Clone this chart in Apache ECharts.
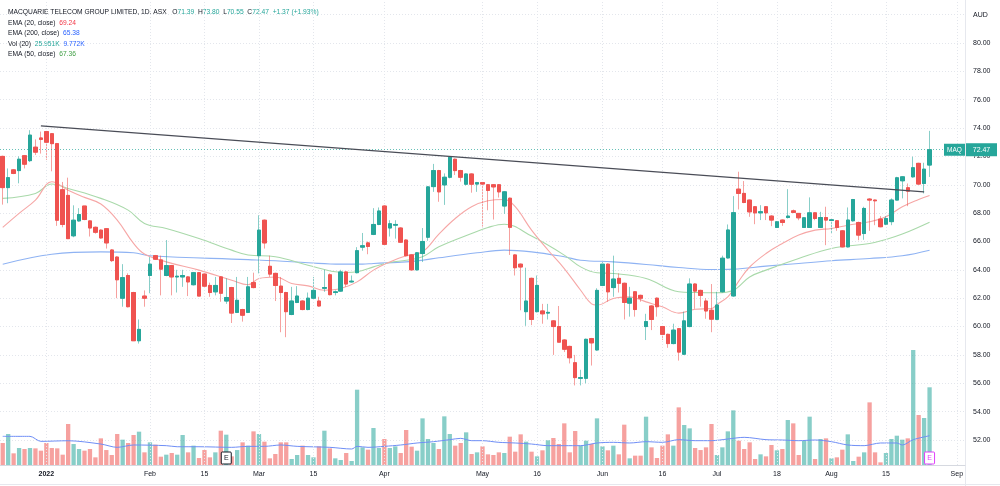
<!DOCTYPE html>
<html><head><meta charset="utf-8">
<script src="https://cdn.jsdelivr.net/npm/echarts@6/dist/echarts.min.js"></script>
<style>html,body{margin:0;padding:0;background:#fff}#c{width:1000px;height:486px}</style>
</head><body><div id="c"></div>
<script>
// ---- DATA ----
const opens = [72.00,69.80,71.05,71.00,72.05,71.70,72.65,73.30,73.75,73.60,72.90,69.65,69.25,66.40,67.45,68.50,67.45,67.00,66.80,66.90,65.40,64.90,62.00,63.60,62.40,59.00,62.15,63.60,65.00,64.70,63.60,64.30,63.50,63.50,63.50,62.95,63.80,63.70,62.90,62.45,63.50,61.80,62.75,61.00,61.20,61.00,63.10,65.00,67.50,64.25,63.75,62.85,62.40,60.85,61.70,61.80,61.20,62.00,61.80,62.70,63.65,62.40,62.50,63.85,63.15,63.80,65.60,65.90,66.50,67.20,68.50,66.95,67.15,66.95,66.10,65.05,64.00,65.15,66.30,69.87,71.00,69.99,70.53,71.80,71.00,70.04,70.76,70.05,70.15,70.00,70.00,70.00,68.50,69.05,65.05,64.40,61.05,63.40,61.05,61.10,60.95,60.40,60.00,59.05,58.60,57.45,56.35,56.35,59.15,58.35,62.90,64.40,62.75,63.40,63.05,61.65,62.45,62.20,60.00,61.45,62.00,60.00,59.45,58.80,59.85,58.05,60.00,63.00,62.55,61.80,61.15,60.51,62.46,64.84,62.16,69.69,69.39,68.92,68.45,68.02,68.45,67.79,66.99,67.51,67.69,68.16,67.98,66.99,66.99,68.02,66.99,67.69,67.48,67.46,66.75,65.62,67.46,67.34,66.56,68.99,68.92,67.58,67.22,67.40,68.92,70.28,69.79,70.56,71.51,70.09,71.39];
const highs = [72.05,71.15,71.10,72.00,72.10,73.85,73.20,73.75,73.80,73.65,72.95,70.20,70.50,68.55,68.35,68.50,67.50,67.05,66.85,66.95,65.45,64.95,64.40,63.75,62.45,60.50,62.55,64.90,65.05,65.00,66.10,64.35,64.00,64.00,63.55,63.85,63.85,63.75,63.10,63.50,63.55,63.40,62.80,63.50,61.25,63.50,63.80,67.85,67.55,65.00,63.80,63.50,62.45,62.80,62.85,61.85,62.40,63.50,62.10,64.00,63.75,62.55,64.00,63.90,63.60,65.60,66.60,66.00,68.35,68.40,68.55,67.50,67.50,67.00,66.15,65.10,65.25,66.95,69.90,71.47,71.05,70.80,72.00,71.85,71.05,70.80,70.80,70.20,70.20,70.05,70.05,70.05,69.55,69.10,65.10,64.45,64.15,63.45,63.60,61.60,61.60,60.45,61.45,59.10,58.65,58.00,56.95,59.15,59.20,62.70,64.55,64.45,65.00,63.75,63.10,62.80,62.50,62.25,60.90,61.50,62.05,60.05,59.50,60.20,59.90,61.05,63.40,63.05,62.60,62.00,63.00,62.45,65.00,67.20,69.20,70.92,70.26,68.95,68.50,68.56,68.50,67.85,67.40,67.55,69.69,68.25,68.00,67.70,69.11,68.05,68.09,68.45,67.60,67.50,66.80,68.40,69.00,67.40,68.45,69.05,68.95,67.79,67.79,69.04,70.56,70.60,70.09,71.98,71.55,71.55,73.80];
const lows = [68.60,68.70,70.75,70.10,71.15,71.60,72.10,72.20,71.75,70.95,67.10,67.00,66.20,66.30,67.40,67.50,66.35,66.55,66.20,65.50,64.55,62.00,61.40,61.35,59.00,58.80,61.40,62.35,64.70,62.20,63.55,62.20,62.40,62.80,62.15,62.90,62.15,62.80,62.10,62.20,61.75,61.60,60.25,60.95,60.35,60.95,62.70,63.75,65.50,63.50,61.80,59.60,59.25,60.80,61.65,61.15,61.15,61.95,61.40,62.45,62.20,62.20,62.45,62.80,63.10,63.75,65.35,65.10,66.45,67.15,65.75,66.35,66.20,65.90,64.95,63.95,63.95,64.55,66.05,69.50,68.80,68.58,70.45,70.69,70.22,69.95,69.44,69.50,67.05,68.20,67.55,69.10,67.95,65.05,63.60,61.15,60.05,60.10,61.00,60.20,60.50,58.00,58.90,58.20,57.40,55.85,55.85,56.00,57.25,58.30,62.85,61.75,62.10,62.40,60.50,60.70,60.70,61.75,59.05,59.75,60.70,59.05,58.50,58.75,57.60,58.00,59.95,61.25,61.40,60.55,59.60,60.45,62.40,64.80,62.10,68.26,68.70,67.74,67.22,67.51,67.51,67.08,66.95,67.10,67.62,68.00,67.50,66.95,66.95,67.50,66.95,65.74,66.56,66.75,65.58,65.58,67.40,66.09,66.12,66.75,67.15,67.00,67.15,67.15,68.90,69.04,68.49,70.50,70.00,69.39,70.55];
const closes = [69.80,70.50,70.80,71.80,71.45,73.50,72.30,73.20,73.00,72.90,67.50,67.20,66.20,67.50,67.90,67.55,66.95,66.65,66.25,65.90,64.65,63.30,63.45,61.40,59.00,59.80,62.00,64.40,64.75,64.05,64.30,63.50,63.55,63.60,63.15,63.80,62.15,62.85,62.40,62.90,62.35,62.05,60.95,61.85,60.80,62.80,62.75,66.80,65.90,63.70,62.90,62.40,61.05,61.80,62.15,61.20,62.00,62.55,61.45,62.75,62.25,62.45,63.85,63.00,63.20,65.35,65.70,65.65,67.20,68.15,65.80,67.25,67.20,65.95,65.00,64.00,65.20,66.00,69.85,71.00,69.50,70.53,71.94,71.00,70.53,70.76,70.04,70.15,70.05,69.60,69.85,69.50,69.50,67.00,64.15,64.20,61.80,60.50,62.90,60.90,61.00,60.00,58.90,58.40,57.80,56.40,56.40,59.10,58.85,62.55,64.40,62.45,63.35,63.05,61.70,62.00,61.20,62.00,60.35,60.50,61.40,59.45,58.80,59.75,58.20,60.40,63.00,62.50,62.20,61.10,60.52,61.52,64.82,66.81,68.03,69.39,68.75,68.09,68.02,68.10,68.02,67.51,67.39,67.34,67.79,68.05,67.67,67.67,68.02,67.62,67.69,67.51,67.53,66.99,65.62,67.51,68.96,66.45,68.33,68.92,68.87,67.04,67.62,68.92,70.49,70.56,69.55,71.20,70.05,71.10,72.47];
// volume in thousands
const volumes = [7.35,10.35,3.9,5.68,5.34,5.68,5.56,4.79,7.35,5.68,5.56,3.45,13.69,7.01,5.34,4.79,5.34,2.56,8.9,5.0,3.34,10.35,8.46,7.35,10.02,11.13,4.23,7.57,6.79,2.78,3.45,4.0,3.45,10.02,4.23,6.46,2.34,5.0,2.56,4.23,11.46,10.13,2.89,5.0,7.57,6.46,11.24,10.35,7.79,2.23,3.67,7.57,7.57,2.0,3.34,6.46,3.34,2.56,6.23,11.46,5.56,2.23,1.67,4.0,1.34,25.15,5.9,5.12,12.35,5.68,8.68,5.68,6.23,4.0,11.69,6.12,4.79,15.58,8.68,7.35,5.34,16.25,10.35,6.46,7.35,10.91,3.67,4.23,6.23,3.56,3.34,4.23,4.0,9.46,4.45,10.24,7.79,4.45,2.89,4.9,8.24,9.02,7.01,13.91,4.23,11.35,6.46,8.12,7.01,15.58,6.23,4.9,6.46,3.56,13.47,2.23,3.12,3.12,16.14,5.9,2.34,6.46,10.24,6.46,19.25,13.36,12.24,5.68,5.0,5.9,13.69,3.34,5.9,11.24,18.25,8.12,5.34,7.57,2.0,3.56,2.89,6.68,4.9,5.34,15.02,13.91,3.34,8.12,16.14,2.0,8.68,8.9,2.23,2.56,5.12,10.24,1.34,2.78,4.23,20.92,4.23,0.89,4.0,8.68,9.79,8.46,8.9,38.4,16.69,15.69,25.95];
// indicator lines: [bar index, value]
const ema20 = [[0,66.99],[3,67.98],[6,68.92],[9,70.21],[12,69.62],[15,69.11],[18,68.64],[21,67.51],[24,65.86],[26,65.11],[30,64.56],[36,63.98],[42,63.27],[45,62.95],[47,63.39],[50,63.5],[53,63.04],[56,62.87],[59,62.56],[62,62.68],[65,63.15],[68,63.98],[71,64.56],[74,64.99],[77,65.27],[80,66.52],[83,67.62],[86,68.45],[89,68.87],[92,68.96],[94,68.45],[97,66.8],[100,65.4],[103,64.09],[106,62.56],[108,61.6],[109,61.51],[112,61.98],[115,62.09],[118,61.74],[121,61.39],[124,60.95],[127,61.22],[130,61.27],[131,61.55],[133,62.1],[134,62.6],[135,63.2],[137,64.2],[140,65.15],[143,65.86],[146,66.45],[149,66.8],[152,66.92],[155,67.15],[159,67.39],[162,67.74],[165,68.45],[168,68.96],[170,69.24]];
const ema50 = [[0,69.04],[6,69.39],[9,70.05],[12,69.74],[18,69.04],[23,68.21],[26,67.27],[30,66.92],[36,66.21],[42,65.39],[45,65.05],[50,64.92],[56,64.33],[61,63.86],[63,63.81],[65,63.86],[68,64.21],[71,64.52],[74,64.68],[77,64.92],[80,65.62],[86,66.56],[89,66.99],[92,67.22],[97,66.38],[103,65.04],[106,64.21],[109,63.79],[112,63.74],[118,63.39],[124,62.45],[127,62.4],[131,62.38],[134,62.56],[137,63.5],[140,63.98],[146,64.8],[152,65.51],[159,65.86],[162,66.14],[165,66.52],[170,67.36]];
const ema200 = [[0,64.4],[9,65.1],[18,65.27],[24,65.2],[27,64.99],[45,64.72],[50,64.64],[56,64.5],[62,64.4],[66,64.4],[68,64.45],[74,64.56],[77,64.68],[80,64.85],[87,65.2],[92,65.39],[97,65.27],[103,64.92],[106,64.68],[112,64.56],[118,64.38],[124,64.16],[130,64.02],[134,64.05],[140,64.26],[146,64.45],[152,64.64],[159,64.8],[165,64.99],[170,65.38]];
const volMa = [[0,9.57],[5,9.57],[7,7.9],[12,8.1],[18,7.0],[21,5.9],[24,6.68],[30,6.46],[32,6.1],[36,6.1],[42,5.9],[45,6.23],[48,6.23],[51,6.68],[54,6.23],[60,5.9],[64,5.34],[65,6.23],[67,5.9],[70,6.23],[73,6.68],[76,7.35],[79,7.79],[82,8.46],[84,8.9],[86,8.12],[88,8.12],[91,7.57],[94,7.35],[97,7.0],[100,6.46],[103,6.46],[106,6.46],[109,7.35],[112,7.57],[115,7.35],[118,7.79],[121,7.57],[124,8.46],[127,8.12],[130,8.12],[133,8.68],[136,9.24],[140,8.46],[143,8.35],[146,8.12],[149,8.35],[152,7.79],[155,6.68],[158,6.46],[161,7.35],[164,7.35],[165,6.68],[167,8.46],[170,9.77]];
const trendLine = [[7,74.15],[169,69.5]];
const tickIdx  = [8,27,37,47,57,70,88,98,110,121,131,142,152,162,175];
const tickText = ['2022','Feb','15','Mar','15','Apr','May','16','Jun','16','Jul','18','Aug','15','Sep'];
const earningsIdx = [41,170];
const totalSlots = 177;
const lastClose = 72.47;

// ---- build ----
const UP='#26a69a', DN='#ef5350';
const cats = Array.from({length: totalSlots}, (_, i) => String(i));
const full = opens.map((o,i)=>[o, closes[i], lows[i], highs[i]]);
const bodies = opens.map((o,i)=>[o, closes[i], Math.min(o,closes[i]), Math.max(o,closes[i])]);
const volData = volumes.map((v,i)=>({value:v, itemStyle:{color: closes[i]>=opens[i]?'rgba(38,166,154,0.55)':'rgba(239,83,80,0.55)'}}));
const FONT = 'Liberation Sans, Arial, sans-serif';
const GRID = '#e3e6ec';

const chart = echarts.init(document.getElementById('c'), null, {renderer:'canvas'});
const option = {
  animation:false,
  backgroundColor:'#ffffff',
  grid:[
    {left:0, right:35, top:14.6, bottom:46},
    {left:0, right:35, top:0, bottom:21}
  ],
  xAxis:[
    {type:'category', gridIndex:0, data:cats, boundaryGap:true, show:false},
    {type:'category', gridIndex:1, data:cats, boundaryGap:true,
     axisLine:{show:true, lineStyle:{color:'#d6d9e0'}}, axisTick:{show:false},
     splitLine:{show:false},
     axisLabel:{show:true, margin:6, fontSize:7, fontFamily:FONT, color:'#131722',
       interval:(idx)=>tickIdx.indexOf(idx)>=0,
       formatter:(v,idx)=>{const k=tickIdx.indexOf(idx); if(k<0) return ''; return k===0?'{b|'+tickText[k]+'}':tickText[k];},
       rich:{b:{fontWeight:'bold', fontSize:7, fontFamily:FONT, color:'#131722'}}}}
  ],
  yAxis:[
    {type:'value', gridIndex:0, position:'right', min:52, max:82, interval:2, scale:true,
     axisLine:{show:false}, axisTick:{show:false},
     splitLine:{show:true, lineStyle:{color:GRID, type:[1,2]}},
     axisLabel:{margin:8, fontSize:7, fontFamily:FONT, color:'#131722',
       formatter:(v)=> v===82 ? 'AUD' : v.toFixed(2)}},
    {type:'value', gridIndex:1, min:0, max:155.3, show:false}
  ],
  series:[
    {type:'line', xAxisIndex:1, yAxisIndex:1, data:volumes, showSymbol:false, silent:true, z:0,
     lineStyle:{opacity:0}, itemStyle:{opacity:0},
     markLine:{silent:true, symbol:['none','none'], label:{show:false},
       lineStyle:{color:GRID, type:[1,2], width:1},
       data: tickIdx.map(i=>({xAxis:i}))}},
    {type:'bar', xAxisIndex:1, yAxisIndex:1, data:volData, barWidth:4.3, silent:true, z:1},
    {type:'line', xAxisIndex:1, yAxisIndex:1, data:volMa, showSymbol:false, smooth:0.3,
     lineStyle:{color:'#6f8ef6', width:1}, z:3, silent:true},
    {type:'line', xAxisIndex:0, yAxisIndex:0, data:ema200, showSymbol:false, smooth:0.4,
     lineStyle:{color:'#8fb3f3', width:1.1}, z:3, silent:true},
    {type:'line', xAxisIndex:0, yAxisIndex:0, data:ema50, showSymbol:false, smooth:0.4,
     lineStyle:{color:'#a9d9aa', width:1.1}, z:3, silent:true},
    {type:'line', xAxisIndex:0, yAxisIndex:0, data:ema20, showSymbol:false, smooth:0.4,
     lineStyle:{color:'#f6a7a6', width:1.1}, z:3, silent:true},
    {type:'candlestick', xAxisIndex:0, yAxisIndex:0, data:full, barWidth:4, z:4, silent:true,
     itemStyle:{color:'rgba(38,166,154,0.55)', color0:'rgba(239,83,80,0.55)',
       borderColor:'rgba(38,166,154,0.55)', borderColor0:'rgba(239,83,80,0.55)', borderWidth:1},
     markLine:{silent:true, symbol:['none','none'], label:{show:false},
       lineStyle:{color:'#26a69a', type:[1,2], width:1, opacity:0.7},
       data:[{yAxis:lastClose}]}},
    {type:'candlestick', xAxisIndex:0, yAxisIndex:0, data:bodies, barWidth:4, z:5, silent:true,
     itemStyle:{color:UP, color0:DN, borderColor:UP, borderColor0:DN, borderWidth:1}},
    {type:'line', xAxisIndex:0, yAxisIndex:0, data:trendLine, showSymbol:false,
     lineStyle:{color:'#4a4d57', width:1.4}, z:6, silent:true}
  ]
};
chart.setOption(option);

// overlays positioned through the chart's own scales
const yLast = chart.convertToPixel({yAxisIndex:0}, lastClose);
const T = (y, parts) => ({type:'text', left:8, top:y, silent:true,
  style:{text:parts.map(p=>'{'+p[0]+'|'+p[1]+'}').join(''), rich:{
    d:{fill:'#131722', fontSize:6.7, fontFamily:FONT},
    g:{fill:UP, fontSize:6.7, fontFamily:FONT},
    r:{fill:'#f23645', fontSize:6.7, fontFamily:FONT},
    b:{fill:'#2962ff', fontSize:6.7, fontFamily:FONT},
    l:{fill:'#43a047', fontSize:6.7, fontFamily:FONT}}}});
const graphics = [
  T(9, [['d','MACQUARIE TELECOM GROUP LIMITED, 1D, ASX   O'],['g','71.39'],['d','  H'],['g','73.80'],['d','  L'],['g','70.55'],['d','  C'],['g','72.47'],['g','  +1.37 (+1.93%)']]),
  T(19.5, [['d','EMA (20, close)  '],['r','69.24']]),
  T(30, [['d','EMA (200, close)  '],['b','65.38']]),
  T(40.5, [['d','Vol (20)  '],['g','25.951K'],['d','  '],['b','9.772K']]),
  T(51, [['d','EMA (50, close)  '],['l','67.36']]),
  {type:'rect', shape:{x:944, y:yLast-6, width:21, height:12}, style:{fill:UP}, silent:true, z:20},
  {type:'text', x:954.5, y:yLast, style:{text:'MAQ', fill:'#fff', fontSize:6.5, fontFamily:FONT, align:'center', verticalAlign:'middle'}, silent:true, z:21},
  {type:'rect', shape:{x:966, y:yLast-6.5, width:31, height:13}, style:{fill:UP}, silent:true, z:20},
  {type:'text', x:981.5, y:yLast, style:{text:lastClose.toFixed(2), fill:'#fff', fontSize:7, fontFamily:FONT, align:'center', verticalAlign:'middle'}, silent:true, z:21},
  {type:'line', shape:{x1:965.5, y1:0, x2:965.5, y2:486}, style:{stroke:'#e6e8ee', lineWidth:1}, silent:true},
  {type:'line', shape:{x1:0, y1:484.5, x2:1000, y2:484.5}, style:{stroke:'#e6e8ee', lineWidth:1}, silent:true}
];
earningsIdx.forEach((idx, k) => {
  const x = chart.convertToPixel({xAxisIndex:1}, idx);
  const c = k===0 ? '#131722' : '#e040fb';
  graphics.push({type:'rect', shape:{x:x-5, y:452, width:10, height:12, r:1}, style:{fill:'#fff', stroke:c, lineWidth:1}, silent:true, z:20});
  graphics.push({type:'text', x:x, y:458, style:{text:'E', fill:c, fontSize:7, fontFamily:FONT, align:'center', verticalAlign:'middle'}, silent:true, z:21});
});
chart.setOption({graphic:graphics});
</script></body></html>
